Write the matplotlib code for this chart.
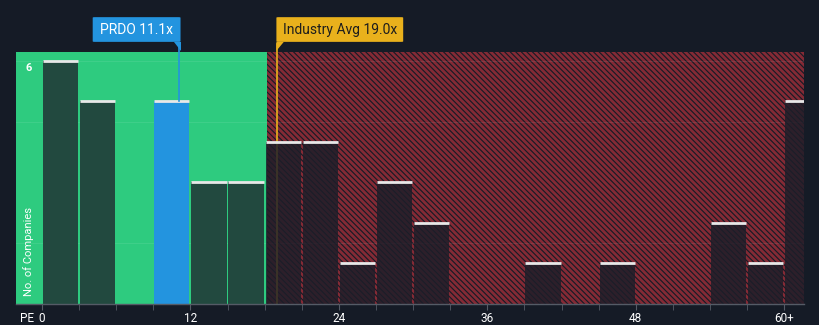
import numpy as np
import matplotlib.pyplot as plt
from matplotlib.patches import FancyBboxPatch

# PE bins (left edge, width 3) and number of companies per bin
bin_left = [0, 3, 6, 9, 12, 15, 18, 21, 24, 27, 30, 33, 36, 39, 42, 45, 48, 51, 54, 57, 60]
counts = [6, 5, 0, 5, 3, 3, 4, 4, 1, 3, 2, 0, 0, 1, 0, 1, 0, 0, 2, 1, 5]
tick_vals = [0, 12, 24, 36, 48, 60]
tick_labels = ["0", "12", "24", "36", "48", "60+"]

company = "PRDO"
company_pe = 11.1
industry_pe = 19.0
fair_limit = 18.2

BG = "#151b26"
GREEN = "#2ecb7f"
DARK_GREEN = "#22493f"
BLUE = "#2394df"
GOLD = "#e9b11c"
RED = "#842a35"

plt.rcParams["hatch.linewidth"] = 2.0
plt.rcParams["font.family"] = ["Roboto", "DejaVu Sans"]

fig = plt.figure(figsize=(8.2, 3.25), dpi=100, facecolor=BG)
ax = fig.add_axes([16 / 820, 21 / 325, 788 / 820, 252 / 325])
ax.set_facecolor(BG)
xmin, xmax = -2.1, 61.6
ymax = 6.22
ax.set_xlim(xmin, xmax)
ax.set_ylim(0, ymax)

# background zones
ax.axvspan(xmin, fair_limit, color=GREEN, lw=0, zorder=0)
ax.axvspan(fair_limit, xmax, facecolor=BG, edgecolor=RED, hatch="\\" * 6, lw=0, zorder=0)

# faint grid
for g in [1.5, 4.5, 6]:
    ax.axhline(g, color="white", alpha=0.08, lw=0.8, zorder=1)

ax.plot([industry_pe, industry_pe], [0, ymax + 0.2], color=GOLD, lw=1.2, zorder=1.5, clip_on=False)

w = 2.85
for left, c in zip(bin_left, counts):
    if c == 0:
        continue
    x0 = left + 0.07
    if left <= company_pe < left + 3:
        col, a = BLUE, 1
    elif left + 3 <= fair_limit + 0.5:
        col, a = DARK_GREEN, 1
    else:
        col, a = "#1c1e29", 0.84
    ax.bar(x0, c, width=w, align="edge", color=col, alpha=a, lw=0, zorder=2)
    ax.plot([x0, x0 + w], [c, c], color="#e8e8e8", lw=2, zorder=3, solid_capstyle="butt")

ax.plot([company_pe, company_pe], [5, ymax + 0.2], color=BLUE, lw=1.2, zorder=4, clip_on=False)

def label_box(x_right, x_left, text, color, tcolor):
    y0, y1 = 6.47, 7.08
    box = FancyBboxPatch((x_left, y0), x_right - x_left, y1 - y0,
                         boxstyle="round,pad=0,rounding_size=0.15", fc=color, ec="none",
                         clip_on=False, zorder=5, mutation_aspect=0.08)
    ax.add_patch(box)
    ax.text((x_left + x_right) / 2, (y0 + y1) / 2, text, color=tcolor, fontsize=10,
            ha="center", va="center", clip_on=False, zorder=6)

label_box(company_pe + 0.1, 4.1, f"{company} {company_pe}x", BLUE, "white")
label_box(29.2, industry_pe - 0.05, f"Industry Avg {industry_pe}x", GOLD, "#1d1d1d")
# small pointers under boxes
ax.fill([company_pe - 0.45, company_pe + 0.1, company_pe + 0.1], [6.47, 6.47, 6.25],
        color=BLUE, clip_on=False, zorder=5, lw=0)
ax.fill([industry_pe - 0.05, industry_pe + 0.55, industry_pe - 0.05], [6.47, 6.47, 6.25],
        color=GOLD, clip_on=False, zorder=5, lw=0)

# axes styling
for s in ["top", "right", "left"]:
    ax.spines[s].set_visible(False)
ax.spines["bottom"].set_color("#555b66")
ax.spines["bottom"].set_linewidth(1)
ax.set_xticks(np.arange(0, 61, 3), minor=True)
ax.set_xticks(tick_vals)
ax.set_xticklabels(tick_labels, color="white", fontsize=8.5)
ax.tick_params(axis="x", which="both", length=4, color="#555b66", pad=2)
ax.set_yticks([])

ax.text(-1.1, 5.82, "6", color="white", fontsize=8, ha="center", va="center", fontweight="bold")
ax.text(-1.1, 1.3, "No. of Companies", color="white", fontsize=8, rotation=90,
        ha="center", va="center")
fig.text(20 / 820, 6 / 325, "PE", color="white", fontsize=8.5, ha="left", va="center")

fig.savefig("out.png", dpi=100, facecolor=BG)
